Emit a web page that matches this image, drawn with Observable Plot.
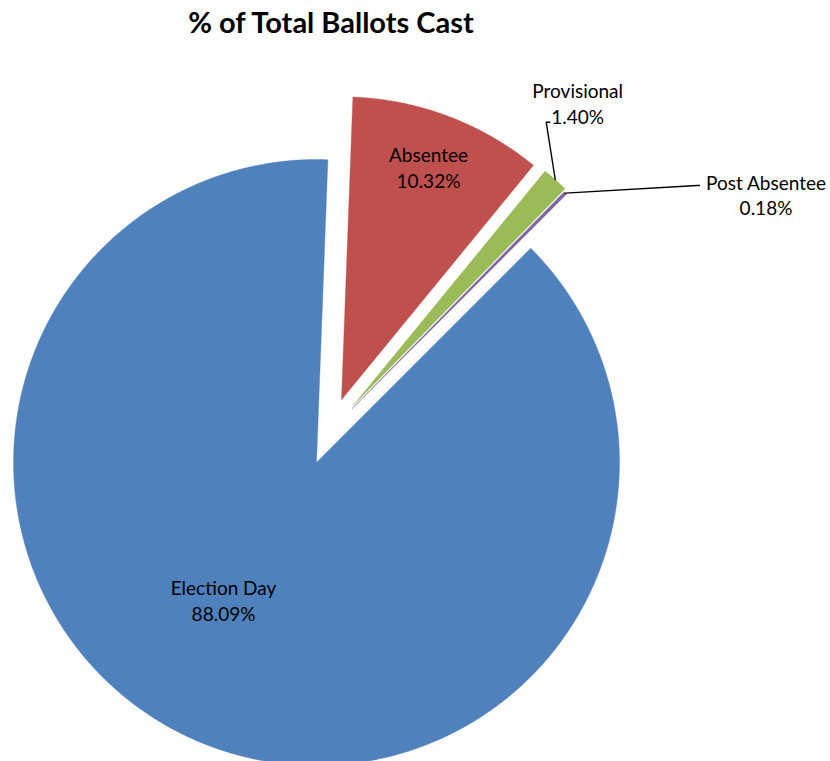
<!DOCTYPE html>
<html><head><meta charset="utf-8">
<script src="https://cdn.jsdelivr.net/npm/d3@7"></script>
<script src="https://cdn.jsdelivr.net/npm/@observablehq/plot@0.6"></script>
<style>
body{margin:0;background:#fff;}
#title{height:50px;width:662px;text-align:center;font-family:Lato,"Open Sans",sans-serif;font-weight:bold;font-size:29px;line-height:29px;padding-top:7px;box-sizing:border-box;color:#000;}
#chart svg{display:block;}
</style></head><body>
<div id="title">% of Total Ballots Cast</div>
<div id="chart"></div>
<script>
// ---- data ----
const categories = ["Election Day", "Absentee", "Provisional", "Post Absentee"];
const values = [88.09, 10.32, 1.40, 0.18];
const colors = ["#4F81BD", "#C0504D", "#9BBB59", "#8064A2"];

// ---- layout (radius units) ----
const firstSliceAngle = 45; // degrees, clockwise from 12 o'clock
const explode = [[0, 0], [0.0825, 0.2069], [0.1211, 0.1881], [0.118, 0.178]];
const labelPos = [[-0.3069, -0.4538], [0.3696, 0.9769], [0.862, 1.1865], [1.4835, 0.8855]];
const leaderPath = [null, null, [[0.7581, 1.1231], [0.7700, 1.1231]], [[1.2564, 0.9142], [1.2640, 0.9142]]];

const W = 830, H = 711, R = 303, cx = 316, cy = 412;

const total = d3.sum(values);
let acc = 0;
const slices = categories.map((c, i) => {
  const a0 = firstSliceAngle + acc / total * 360;
  acc += values[i];
  const a1 = firstSliceAngle + acc / total * 360;
  return {c, i, a0, a1, mid: (a0 + a1) / 2};
});
const rad = a => a * Math.PI / 180;

const sliceMarks = slices.map(s => {
  const [ox, oy] = explode[s.i];
  const pts = [{x: ox, y: oy}];
  const n = Math.max(6, Math.ceil((s.a1 - s.a0) / 0.25));
  for (let k = 0; k <= n; k++) {
    const a = rad(s.a0 + (s.a1 - s.a0) * k / n);
    pts.push({x: ox + Math.sin(a), y: oy + Math.cos(a)});
  }
  pts.push({x: ox, y: oy});
  return Plot.line(pts, {x: "x", y: "y", fill: colors[s.i], stroke: colors[s.i], strokeWidth: 0.4, curve: "linear"});
});

const leaderPts = slices.filter(s => leaderPath[s.i]).flatMap(s => {
  const [ox, oy] = explode[s.i];
  const m = rad(s.mid);
  return [{c: s.c, x: ox + Math.sin(m), y: oy + Math.cos(m)},
    ...leaderPath[s.i].map(([x, y]) => ({c: s.c, x, y}))];
});

const labels = slices.map(s => ({
  x: labelPos[s.i][0], y: labelPos[s.i][1],
  text: s.c + "\n" + values[s.i].toFixed(2) + "%"
}));

const chart = Plot.plot({
  width: W, height: H,
  margin: 0,
  x: {domain: [-cx / R, (W - cx) / R], axis: null},
  y: {domain: [-(H - cy) / R, cy / R], axis: null},
  marks: [
    ...sliceMarks,
    Plot.line(leaderPts, {x: "x", y: "y", z: "c", stroke: "black", strokeWidth: 1.4}),
    Plot.text(labels, {x: "x", y: "y", text: "text", fontSize: 19, fontFamily: "Lato", lineHeight: 1.35, fill: "black"})
  ]
});
document.getElementById("chart").appendChild(chart);
</script>
</body></html>
